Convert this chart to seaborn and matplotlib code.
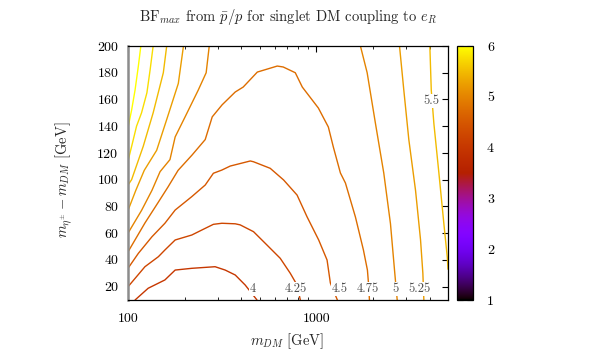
import matplotlib

matplotlib.use("Agg")

import matplotlib.pyplot as plt
import numpy as np
import seaborn as sns
from matplotlib.cm import ScalarMappable
from matplotlib.colors import Normalize

# Contour lines of BF_max (x: m_DM [GeV], y: mass splitting [GeV])
C400_X = [109, 128, 157, 178, 218, 290, 328, 371, 419, 484]
C400_Y = [10, 18.8, 25, 32.4, 33.7, 34.9, 32.4, 28.7, 21.2, 10]

C425_X = [100, 123, 145, 157, 178, 218, 247, 284, 315, 371, 394, 464, 547, 643, 727, 790, 822]
C425_Y = [19.9, 34.9, 42.4, 47.4, 54.9, 58.6, 62.4, 66.6, 67.4, 67.0, 66.2, 61.1, 51.1, 41.2, 30, 21.2, 10]

C450_X = [100, 113.5, 134, 157, 178, 218, 257, 284, 315, 349, 446, 464, 569, 670, 790, 892, 1029, 1140, 1187, 1293]
C450_Y = [33.7, 44.9, 57.3, 67.4, 77.3, 87.3, 96, 104.8, 107.2, 110.2, 114, 113.4, 108.5, 99.8, 88.5, 72.3, 54.9, 39.9, 22.7, 10]

C475_X = [100, 123, 144, 163, 184.5, 219, 257, 280, 316, 371, 409, 486, 620, 667, 773,
          842, 1025, 1158, 1231, 1342, 1427, 1613, 1778, 1867, 1891, 1914]
C475_Y = [46, 67.6, 82.6, 94.5, 107, 118.5, 130, 147, 156, 165.6, 169.3, 180.5, 185, 184.3, 180,
          169.3, 153.6, 139.4, 124.4, 105, 97.5, 72, 47.4, 32.4, 22.7, 10]

C500L_X = [270, 260, 236, 201, 178, 167, 148, 134, 118, 100]
C500L_Y = [200, 180, 167, 147, 132, 115, 106, 92, 77, 60]
C500R_X = [1714, 1861, 2060, 2280, 2475, 2609, 2687]
C500R_Y = [200, 180, 142, 105, 67, 30, 10]

C525L_X = [197, 185, 160.5, 142, 122, 110, 100]
C525L_Y = [200, 172, 145, 122, 107, 92, 77]
C525R_X = [2764, 2913, 3097, 3362, 3574, 3677, 3722]
C525R_Y = [200, 167, 130, 92, 55, 30, 10]

C550L_X = [160.5, 154, 136, 120.5, 104.5, 100]
C550L_Y = [200, 180, 150, 125, 100, 96]
C550R_X = [4005, 4075, 4207, 4473, 4754, 4957, 5000]
C550R_Y = [200, 167, 142, 105, 67, 42, 33]

C575_X = [136, 131, 126, 118, 111, 105, 100]
C575_Y = [200, 182, 165, 150, 140, 126, 114]

C600_X = [117, 113.5, 109, 104.5, 100]
C600_Y = [200, 185, 167, 152, 139]

LABEL_TEXT = ["4", "4.25", "4.5", "4.75", "5", "5.25", "5.5"]
LABEL_X = [462, 782, 1326, 1867, 2632, 3540, 4089]
LABEL_Y = [18, 18, 18, 18, 18, 18, 159]

X_TICKS = [100, 1000]
Y_TICKS = [20, 40, 60, 80, 100, 120, 140, 160, 180, 200]
CB_TICKS = [1, 2, 3, 4, 5, 6]

curves = [
    (4.0, C400_X, C400_Y),
    (4.25, C425_X, C425_Y),
    (4.5, C450_X, C450_Y),
    (4.75, C475_X, C475_Y),
    (5.0, C500L_X, C500L_Y),
    (5.0, C500R_X, C500R_Y),
    (5.25, C525L_X, C525L_Y),
    (5.25, C525R_X, C525R_Y),
    (5.5, C550L_X, C550L_Y),
    (5.5, C550R_X, C550R_Y),
    (5.75, C575_X, C575_Y),
    (6.0, C600_X, C600_Y),
]

sns.set_theme(style="white")
plt.rcParams["font.family"] = "serif"
plt.rcParams["font.serif"] = ["cmr10", "DejaVu Serif"]
plt.rcParams["mathtext.fontset"] = "cm"
plt.rcParams["axes.formatter.use_mathtext"] = True
plt.rcParams["font.size"] = 10

cmap = plt.get_cmap("gnuplot")
norm = Normalize(vmin=1, vmax=6)

fig = plt.figure(figsize=(6.04, 3.53), dpi=100)
ax = fig.add_axes([128 / 604, 53 / 353, 320 / 604, 254 / 353])
cax = fig.add_axes([457 / 604, 53 / 353, 16 / 604, 254 / 353])

ax.set_xscale("log")
for level, xs, ys in curves:
    sns.lineplot(x=xs, y=ys, sort=False, estimator=None, color=cmap(norm(level)),
                 lw=1.0, ax=ax, legend=False)

for txt, lx, ly in zip(LABEL_TEXT, LABEL_X, LABEL_Y):
    ax.text(lx, ly, txt, ha="center", va="center", fontsize=9, color="0.3", zorder=5,
            bbox=dict(facecolor="white", edgecolor="none", pad=0.6))

ax.set_xlim(100, 5000)
ax.set_ylim(10, 200)
ax.set_xticks(X_TICKS)
ax.set_xticklabels([str(t) for t in X_TICKS])
ax.set_yticks(Y_TICKS)
ax.set_yticklabels([str(t) for t in Y_TICKS])
ax.tick_params(axis="both", which="major", direction="in", length=4, width=0.8,
               top=True, right=True, colors="black", labelsize=10)
ax.tick_params(axis="x", which="major", pad=9)
ax.tick_params(axis="y", which="major", pad=7)
ax.tick_params(axis="x", which="minor", direction="in", length=2.2, width=0.7,
               top=True, bottom=True)
ax.xaxis.set_minor_formatter(matplotlib.ticker.NullFormatter())
for side in ["top", "right", "bottom"]:
    ax.spines[side].set_color("black")
    ax.spines[side].set_linewidth(0.9)
ax.spines["left"].set_color("0.55")
ax.spines["left"].set_linewidth(1.8)
ax.set_xlabel("")
ax.set_ylabel("")

sm = ScalarMappable(norm=norm, cmap=cmap)
cb = fig.colorbar(sm, cax=cax, ticks=CB_TICKS)
cb.outline.set_linewidth(0.9)
cb.outline.set_edgecolor("black")
cax.tick_params(direction="in", length=4, width=0.8, left=True, right=True, pad=10,
                labelsize=10, colors="black")
cax.set_yticklabels([str(t) for t in CB_TICKS])

fig.text(288 / 604, 1 - 17 / 353, r"BF$_{max}$ from $\bar{p}/p$ for singlet DM coupling to $e_R$",
         ha="center", va="center", fontsize=10.5)
fig.text(287 / 604, 1 - 341 / 353, r"$m_{DM}$ [GeV]", ha="center", va="center", fontsize=10.5)
fig.text(64 / 604, 1 - 180 / 353, r"$m_{\eta^{\pm}} - m_{DM}$ [GeV]", ha="center", va="center",
         rotation=90, fontsize=10.5)

fig.savefig("out.png", dpi=100)
plt.close(fig)
